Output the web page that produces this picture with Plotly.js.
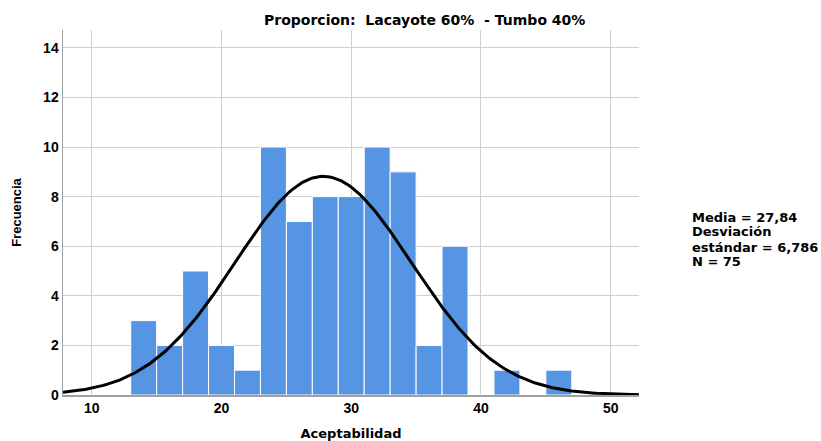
<!DOCTYPE html>
<html>
<head>
<meta charset="utf-8">
<script src="https://cdn.plot.ly/plotly-3.0.1.min.js"></script>
<style>html,body{margin:0;padding:0;background:#fff;}#chart{width:821px;height:441px;}</style>
</head>
<body>
<div id="chart"></div>
<script>
// Bin centers (bin width 2, starting at 13)
const binCenters = [14, 16, 18, 20, 22, 24, 26, 28, 30, 32, 34, 36, 38, 40, 42, 44, 46];
const frequencies = [3, 2, 5, 2, 1, 10, 7, 8, 8, 10, 9, 2, 6, 0, 1, 0, 1];
const binWidth = 2;
const meanValue = 27.84;
const sdValue = 6.786;
const nValue = 75;
const xTicks = [10, 20, 30, 40, 50];
const yTicks = [0, 2, 4, 6, 8, 10, 12, 14];
const titleText = "Proporcion:  Lacayote 60%  - Tumbo 40%";
const statsLines = ["Media = 27,84", "Desviación", "estándar = 6,786", "N = 75"];

// Fitted normal curve from the displayed mean / std. deviation / N
const xr = [7.78, 52.18];
const curveX = [], curveY = [];
for (let i = 0; i <= 300; i++) {
  const x = xr[0] + (xr[1] - xr[0]) * i / 300;
  const z = (x - meanValue) / sdValue;
  curveX.push(x);
  curveY.push(nValue * binWidth * Math.exp(-0.5 * z * z) / (sdValue * Math.sqrt(2 * Math.PI)));
}

const font = "Liberation Sans, Arial, sans-serif";
const wfont = "DejaVu Sans, Verdana, sans-serif";
const data = [
  {type: 'bar', x: binCenters, y: frequencies, width: binWidth,
   marker: {color: '#5694E4', line: {color: '#ffffff', width: 1}}, hoverinfo: 'skip'},
  {type: 'scatter', mode: 'lines', x: curveX, y: curveY,
   line: {color: '#000000', width: 3}, hoverinfo: 'skip'}
];
const plotTop = 30, plotBottom = 395, plotH = plotBottom - plotTop;
const statsY = [217, 232, 247, 261];
const annotations = [
  {text: '<b>' + titleText + '</b>', xref: 'paper', yref: 'paper', x: (424 - 63) / 576, y: 1.0, xanchor: 'center', yanchor: 'bottom', yshift: 0, showarrow: false, font: {family: wfont, size: 14, color: '#000'}}
];
statsLines.forEach((t, i) => {
  annotations.push({text: '<b>' + t + '</b>', xref: 'paper', yref: 'paper', x: (692 - 63) / 576, y: (plotBottom - statsY[i]) / plotH,
    xanchor: 'left', yanchor: 'middle', align: 'left', showarrow: false, xshift: -2, font: {family: wfont, size: 13, color: '#000'}});
});
const layout = {
  width: 821, height: 441,
  margin: {l: 63, r: 182, t: 30, b: 46},
  paper_bgcolor: '#ffffff', plot_bgcolor: '#ffffff',
  showlegend: false, bargap: 0,
  font: {family: font, size: 13, color: '#000'},
  xaxis: {range: xr, tickvals: xTicks, ticktext: xTicks.map(String),
    showgrid: true, gridcolor: '#cfcfcf', gridwidth: 1, zeroline: false,
    showline: true, linecolor: '#a0a0a0', linewidth: 1.5, ticks: '',
    tickfont: {family: font, size: 14, color: '#000', weight: 'bold'},
    title: {text: '<b>Aceptabilidad</b>', font: {family: wfont, size: 13}, standoff: 18}},
  yaxis: {range: [0, 14.72], tickvals: yTicks, ticktext: yTicks.map(String),
    showgrid: true, gridcolor: '#cfcfcf', gridwidth: 1, zeroline: false,
    showline: true, linecolor: '#a0a0a0', linewidth: 1.5, ticks: '',
    tickfont: {family: font, size: 14, color: '#000', weight: 'bold'},
    title: {text: '<b>Frecuencia</b>', font: {family: font, size: 13}, standoff: 18}},
  annotations: annotations
};
Plotly.newPlot('chart', data, layout, {displayModeBar: false, staticPlot: true});
</script>
</body>
</html>
